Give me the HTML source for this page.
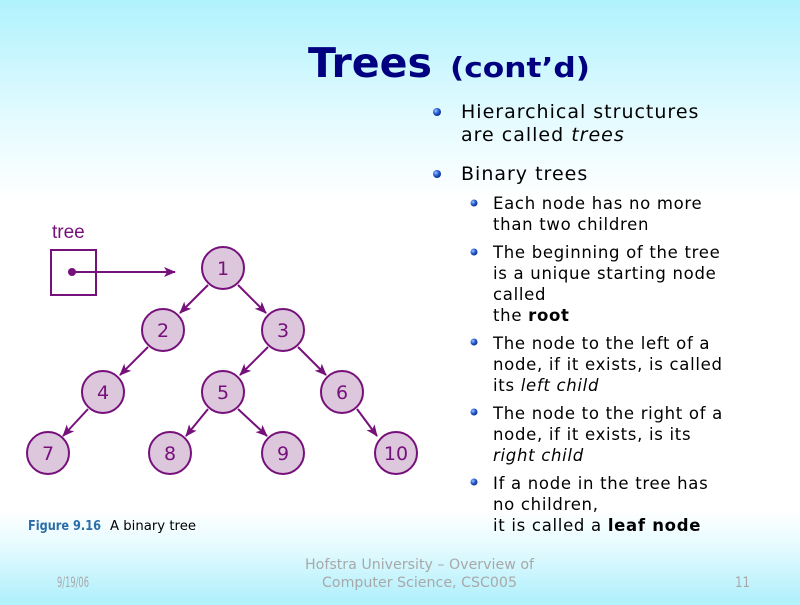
<!DOCTYPE html>
<html><head><meta charset="utf-8"><style>
html,body{margin:0;padding:0;}
body{width:800px;height:600px;overflow:hidden;background:linear-gradient(to bottom,#b0f2fd 0px,#e4fbff 120px,#ffffff 200px,#ffffff 510px,#e6fbff 545px,#b2f0fc 600px);}
svg text{font-family:"DejaVu Sans","Liberation Sans",sans-serif;}
</style></head><body>
<svg width="800" height="600" xmlns="http://www.w3.org/2000/svg">
<defs>
<radialGradient id="b" cx="0.35" cy="0.35" r="0.7"><stop offset="0" stop-color="#9cc4ff"/><stop offset="0.5" stop-color="#2a5fd6"/><stop offset="1" stop-color="#0a2a80"/></radialGradient>
<marker id="ah" markerWidth="12" markerHeight="10" refX="11" refY="5" orient="auto" markerUnits="userSpaceOnUse"><path d="M0,0 L12,5 L0,10 L3,5 Z" fill="#76107a"/></marker>
</defs>
<text x="308" y="77" font-size="41" font-weight="bold" fill="#000080" textLength="124" lengthAdjust="spacingAndGlyphs">Trees</text>
<text x="450" y="77" font-size="28" font-weight="bold" fill="#000080" textLength="140" lengthAdjust="spacingAndGlyphs">(cont’d)</text>

<g fill="url(#b)">
<circle cx="437" cy="112" r="4"/><circle cx="437" cy="174" r="4"/>
<circle cx="474" cy="203" r="3.5"/><circle cx="474" cy="252" r="3.5"/><circle cx="474" cy="342" r="3.5"/><circle cx="474" cy="412" r="3.5"/><circle cx="474" cy="482" r="3.5"/>
</g>
<g font-size="19" fill="#000" letter-spacing="1">
<text x="461" y="118">Hierarchical structures</text>
<text x="461" y="141">are called <tspan font-style="italic">trees</tspan></text>
<text x="461" y="180">Binary trees</text>
</g>
<g font-size="16.5" fill="#000" letter-spacing="0.7">
<text x="493" y="209">Each node has no more</text>
<text x="493" y="230">than two children</text>
<text x="493" y="258">The beginning of the tree</text>
<text x="493" y="279">is a unique starting node</text>
<text x="493" y="300">called</text>
<text x="493" y="321">the <tspan font-weight="bold">root</tspan></text>
<text x="493" y="349">The node to the left of a</text>
<text x="493" y="370">node, if it exists, is called</text>
<text x="493" y="391">its <tspan font-style="italic">left child</tspan></text>
<text x="493" y="419">The node to the right of a</text>
<text x="493" y="440">node, if it exists, is its</text>
<text x="493" y="461"><tspan font-style="italic">right child</tspan></text>
<text x="493" y="489">If a node in the tree has</text>
<text x="493" y="510">no children,</text>
<text x="493" y="531">it is called a <tspan font-weight="bold">leaf node</tspan></text>
</g>

<text x="52" y="238" font-size="19" fill="#76107a" style="font-family:'Liberation Sans',sans-serif">tree</text>
<rect x="51" y="250" width="45" height="45" fill="none" stroke="#76107a" stroke-width="2"/>
<circle cx="72" cy="272" r="4" fill="#76107a"/>
<g stroke="#76107a" stroke-width="2" marker-end="url(#ah)">
<line x1="72" y1="272" x2="175" y2="272"/>
<line x1="208" y1="285" x2="180" y2="313"/>
<line x1="238" y1="285" x2="266" y2="313"/>
<line x1="148" y1="347" x2="120" y2="375"/>
<line x1="268" y1="347" x2="240" y2="375"/>
<line x1="298" y1="347" x2="326" y2="375"/>
<line x1="88" y1="409" x2="63" y2="436"/>
<line x1="208" y1="409" x2="186" y2="436"/>
<line x1="238" y1="409" x2="267" y2="436"/>
<line x1="357" y1="409" x2="377" y2="436"/>
</g>
<g fill="#dcc7dd" stroke="#76107a" stroke-width="2">
<circle cx="223" cy="268" r="21"/><circle cx="163" cy="330" r="21"/><circle cx="283" cy="330" r="21"/>
<circle cx="103" cy="392" r="21"/><circle cx="223" cy="392" r="21"/><circle cx="342" cy="392" r="21"/>
<circle cx="48" cy="453" r="21"/><circle cx="170" cy="453" r="21"/><circle cx="283" cy="453" r="21"/><circle cx="396" cy="453" r="21"/>
</g>
<g font-size="19" fill="#76107a" text-anchor="middle" style="font-family:'Liberation Sans',sans-serif">
<text x="223" y="275">1</text><text x="163" y="337">2</text><text x="283" y="337">3</text>
<text x="103" y="399">4</text><text x="223" y="399">5</text><text x="342" y="399">6</text>
<text x="48" y="460">7</text><text x="170" y="460">8</text><text x="283" y="460">9</text><text x="396" y="460">10</text>
</g>
<g font-size="13" style="font-family:'Liberation Sans',sans-serif">
<text x="28" y="530" fill="#2a6ea8" font-weight="bold" textLength="73" lengthAdjust="spacingAndGlyphs">Figure 9.16</text>
<text x="110" y="530" fill="#000" textLength="86" lengthAdjust="spacingAndGlyphs">A binary tree</text>
</g>

<g fill="#a8a8a8">
<text x="57" y="587" font-size="14" textLength="32" lengthAdjust="spacingAndGlyphs">9/19/06</text>
<text x="305" y="569" font-size="14" textLength="229" lengthAdjust="spacingAndGlyphs">Hofstra University – Overview of</text>
<text x="322" y="587" font-size="14" textLength="195" lengthAdjust="spacingAndGlyphs">Computer Science, CSC005</text>
<text x="735" y="587" font-size="14" textLength="15" lengthAdjust="spacingAndGlyphs">11</text>
</g>
</svg>
</body></html>
